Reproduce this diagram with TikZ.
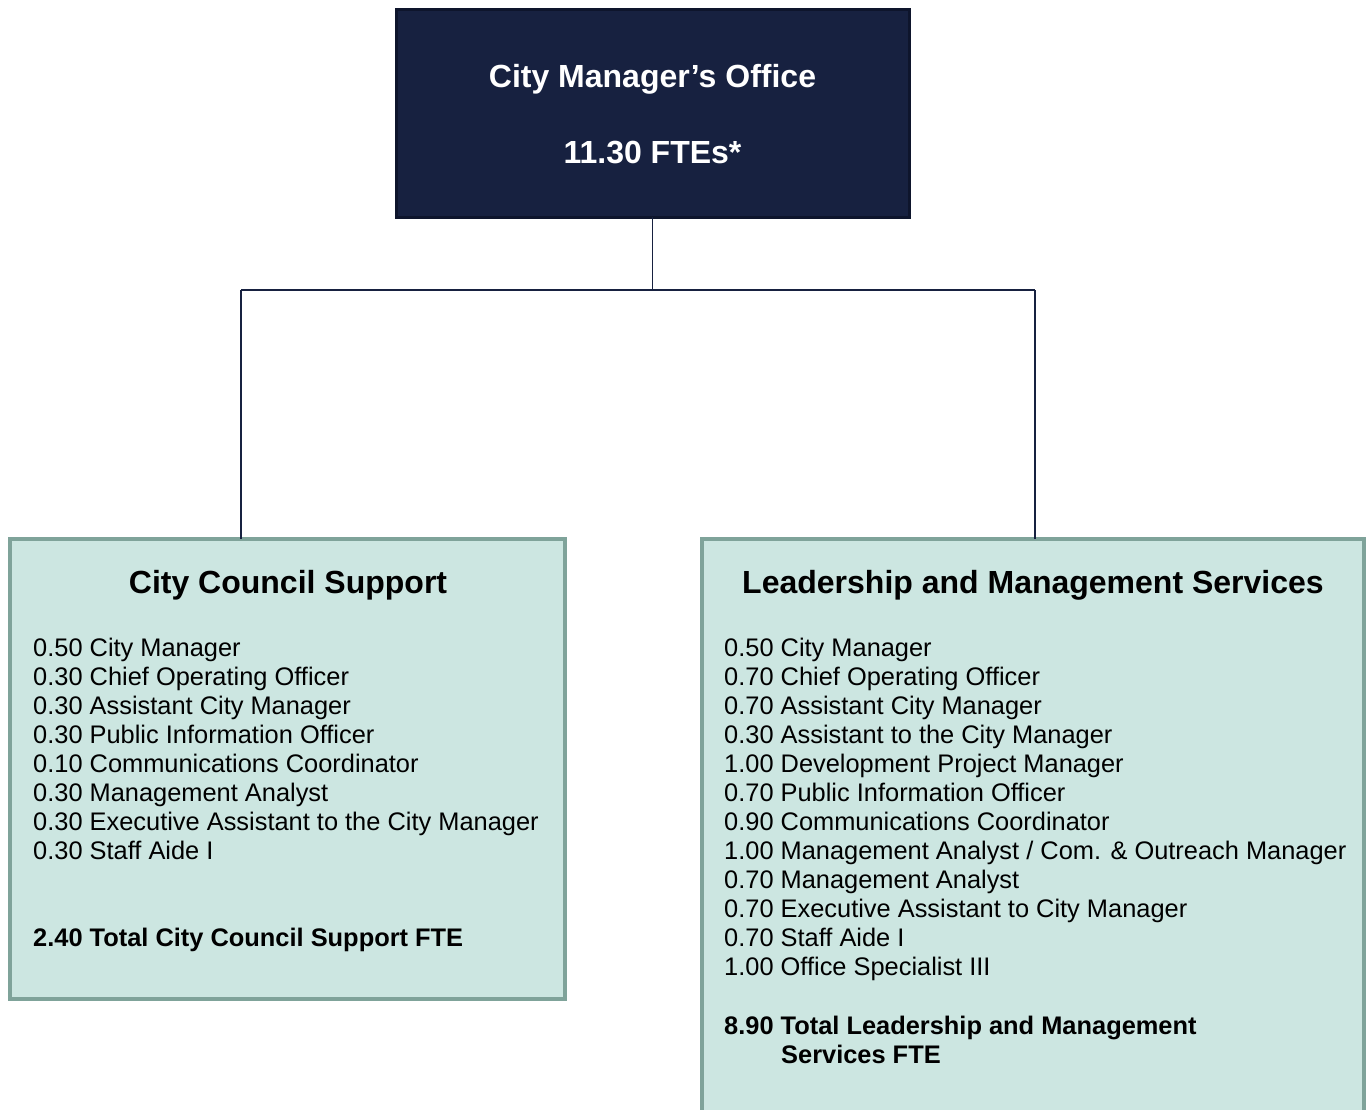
\documentclass[tikz,border=0pt]{standalone}
\usepackage{fontspec}
\setmainfont{Liberation Sans}
\usetikzlibrary{positioning}
\definecolor{cmoNavy}{RGB}{23,33,64}
\definecolor{cmoNavyEdge}{RGB}{14,21,44}
\definecolor{cmoTeal}{RGB}{204,230,225}
\definecolor{cmoTealEdge}{RGB}{127,163,154}
\tikzset{
myHead/.style={
	rectangle,draw=cmoNavyEdge,fill=cmoNavy,line width=3pt,
	inner sep=0pt,outer sep=0pt,minimum width=513pt,minimum height=208pt
}
, myHeadText/.style={
	text=white,font=\fontsize{32}{36}\selectfont\bfseries,inner sep=0pt
}
, myUnit/.style={
	rectangle,draw=cmoTealEdge,fill=cmoTeal,line width=4pt,
	inner sep=0pt,outer sep=0pt,anchor=north west
}
, myTitle/.style={
	font=\fontsize{32}{36}\selectfont\bfseries,inner sep=0pt
}
, myItem/.style={
	font=\fontsize{25.4}{29}\selectfont,inner sep=0pt,anchor=base west
}
, myTotal/.style={
	myItem,font=\fontsize{25.4}{29}\selectfont\bfseries
}
% link
, myLink/.style={draw=cmoNavy,line width=1.5pt}
}
\begin{document}
\begin{tikzpicture}[x=1pt,y=-1pt]
	\clip (0,0) rectangle (1368,1109);
	\fill[white] (0,0) rectangle (1368,1109);
	% head
	\node[myHead] (CMO) at (652.5,113) {};
	\node[myHeadText] (CMOName) at (652.5,79) {City Manager’s Office};
	\node[myHeadText] (CMOFte) at (652.5,153) {11.30 FTEs*};
	% units
	\node[myUnit,minimum width=555pt,minimum height=460pt] (CCS) at (10,539) {};
	\node[myUnit,minimum width=662pt,minimum height=600pt] (LMS) at (702,539) {};
	\node[myTitle] (CCSTitle) at (288,585) {City Council Support};
	\node[myTitle] (LMSTitle) at (1033,585) {Leadership and Management Services};
	% city council support
	\foreach \t [count=\i] in {0.50 City Manager, 0.30 Chief Operating Officer,
		0.30 Assistant City Manager, 0.30 Public Information Officer,
		0.10 Communications Coordinator, 0.30 Management Analyst,
		0.30 Executive Assistant to the City Manager, 0.30 Staff Aide I}
		\node[myItem] (CCS-\i) at (33,{656+29*(\i-1)}) {\t};
	\node[myTotal] (CCSTotal) at (33,946) {2.40 Total City Council Support FTE};
	% leadership and management services
	\foreach \t [count=\i] in {0.50 City Manager, 0.70 Chief Operating Officer,
		0.70 Assistant City Manager, 0.30 Assistant to the City Manager,
		1.00 Development Project Manager, 0.70 Public Information Officer,
		0.90 Communications Coordinator,
		1.00 Management Analyst / Com. \& Outreach Manager,
		0.70 Management Analyst, 0.70 Executive Assistant to City Manager,
		0.70 Staff Aide I, 1.00 Office Specialist III}
		\node[myItem] (LMS-\i) at (724,{656+29*(\i-1)}) {\t};
	\node[myTotal] (LMSTotal) at (724,1034) {8.90 Total Leadership and Management};
	\node[myTotal] (LMSTotal2) at (781,1063) {Services FTE};
	% links
	\coordinate (Split) at (652.5,290);
	\coordinate (LeftTurn) at (241,290);
	\coordinate (RightTurn) at (1035,290);
	\draw[myLink] (CMO.south) -- (Split);
	\draw[myLink] (LeftTurn) -- (RightTurn);
	\draw[myLink] (LeftTurn) -- (LeftTurn |- CCS.north);
	\draw[myLink] (RightTurn) -- (RightTurn |- LMS.north);
\end{tikzpicture}
\end{document}
